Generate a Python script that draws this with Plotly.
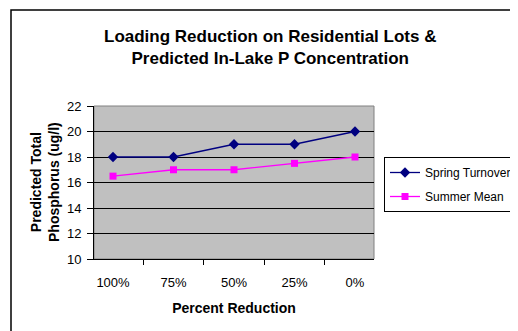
import plotly.graph_objects as go

categories = ["100%", "75%", "50%", "25%", "0%"]
spring_turnover = [18, 18, 19, 19, 20]
summer_mean = [16.5, 17, 17, 17.5, 18]
y_ticks = [10, 12, 14, 16, 18, 20, 22]

# page body has an 8px default margin; work in screen pixels and offset
OX, OY = 8, 8
W, H = 518 - OX, 331 - OY
L, R, T, B = 94, 374, 106, 259  # screen pixel positions of plot area
pw, ph = R - L, B - T

def px(x):
    return (x - L) / pw

def py(y):
    return (B - y) / ph

font = "Arial, Liberation Sans, sans-serif"

fig = go.Figure()
fig.add_trace(go.Scatter(
    x=categories, y=spring_turnover, name="Spring Turnover", mode="lines+markers",
    line=dict(color="#000080", width=1.3),
    marker=dict(symbol="diamond", size=8, color="#000080"),
    legendgroup="a",
))
fig.add_trace(go.Scatter(
    x=categories, y=summer_mean, name="Summer Mean", mode="lines+markers",
    line=dict(color="#FF00FF", width=1.3),
    marker=dict(symbol="square", size=7, color="#FF00FF"),
    legendgroup="b",
))

fig.update_layout(
    width=W, height=H,
    margin=dict(l=L - OX, r=518 - R, t=T - OY, b=331 - B, autoexpand=False),
    paper_bgcolor="white",
    plot_bgcolor="#C0C0C0",
    font=dict(family=font, size=13, color="black"),
    showlegend=True,
    legend=dict(
        x=px(384), y=py(157), xanchor="left", yanchor="top",
        bordercolor="black", borderwidth=1, bgcolor="white",
        font=dict(family=font, size=12, color="black"),
        traceorder="grouped", tracegroupgap=5,
    ),
    xaxis=dict(
        type="category", tickson="boundaries", ticks="outside", ticklen=5,
        tickcolor="black", showline=True, linecolor="black", linewidth=1,
        showgrid=False, tickfont=dict(size=13), mirror=False,
        ticklabelstandoff=11,
        title=dict(text="<b>Percent Reduction</b>", font=dict(size=14), standoff=14),
    ),
    yaxis=dict(
        range=[10, 22], tickvals=y_ticks, ticks="outside", ticklen=6,
        tickcolor="black", showline=True, linecolor="black", linewidth=1,
        showgrid=True, gridcolor="black", gridwidth=1,
        tickfont=dict(size=13), zeroline=False, ticklabelstandoff=3,
    ),
    shapes=[
        dict(type="rect", xref="paper", yref="paper", x0=0, x1=1, y0=0, y1=1,
             line=dict(color="#808080", width=1), layer="below"),
        dict(type="rect", xref="paper", yref="paper",
             x0=px(11), x1=px(540), y0=py(345), y1=py(10),
             line=dict(color="black", width=1.5)),
    ],
    annotations=[
        dict(text="<b>Loading Reduction on Residential Lots &<br>Predicted In-Lake P Concentration</b>",
             xref="paper", yref="paper", x=px(270), y=py(47), xanchor="center", yanchor="middle",
             showarrow=False, font=dict(family=font, size=17, color="black"), align="center"),
        dict(text="<b>Predicted Total<br>Phosphorus (ug/l)</b>",
             xref="paper", yref="paper", x=px(45), y=py(182), xanchor="center", yanchor="middle",
             textangle=-90, showarrow=False, font=dict(family=font, size=14, color="black"),
             align="center"),
    ],
)

fig.write_html("out.html")
